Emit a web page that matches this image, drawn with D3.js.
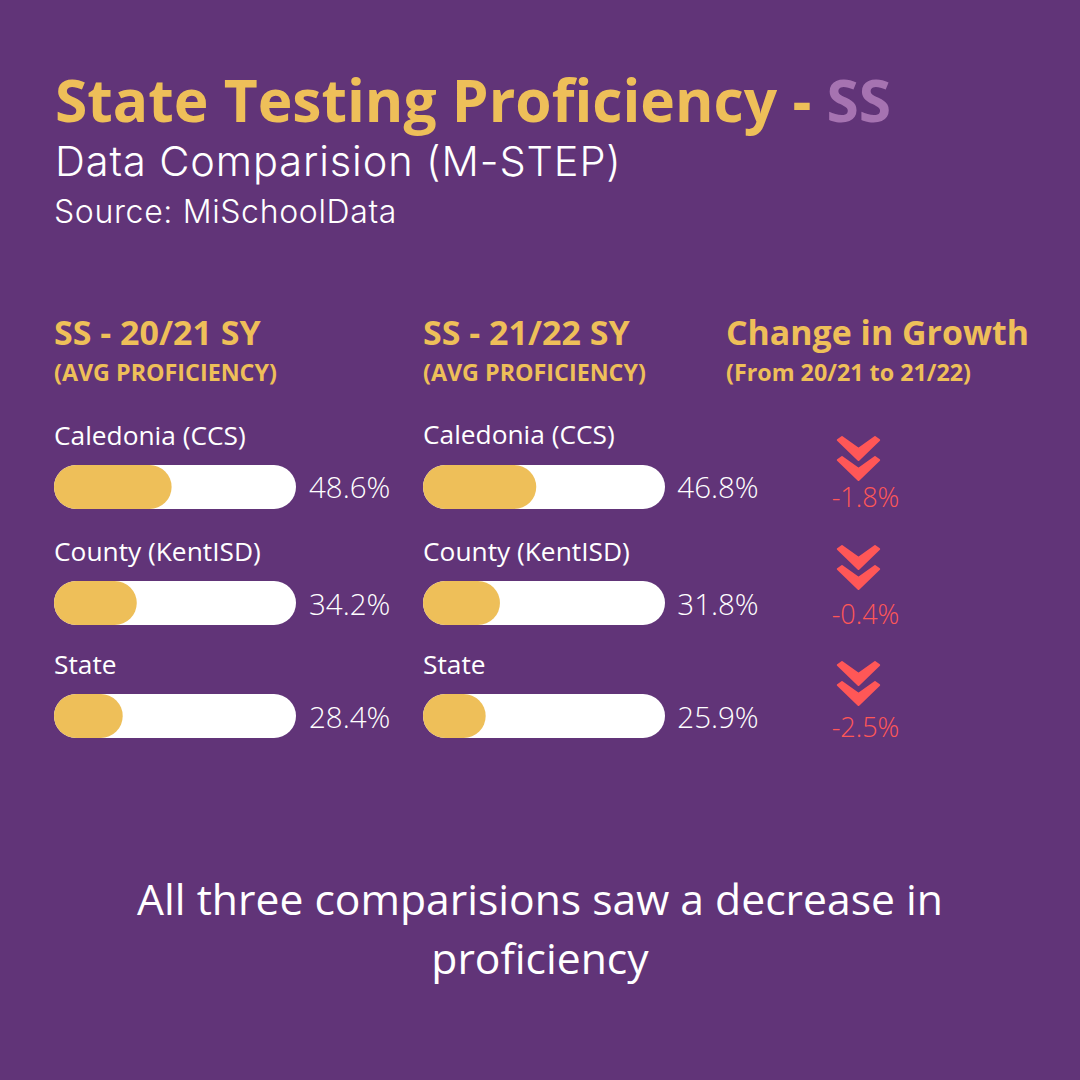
<!DOCTYPE html>
<html><head><meta charset="utf-8">
<script src="https://cdn.jsdelivr.net/npm/d3@7"></script>
<style>html,body{margin:0;padding:0;background:#613478}svg{display:block}</style>
</head><body><div id="c"></div>
<script>
const categories = ["Caledonia (CCS)", "County (KentISD)", "State"];
const values2021 = [48.6, 34.2, 28.4];
const values2122 = [46.8, 31.8, 25.9];
const changes = [-1.8, -0.4, -2.5];
const columnTitles = ["SS - 20/21 SY", "SS - 21/22 SY"];
const axisDomain = [0, 100];

const PURPLE="#613478", GOLD="#EEBF59", WHITE="#FFFFFF", RED="#FF5757", LILAC="#A673B1";
const OS="'Open Sans',sans-serif", LX="'Inter','Noto Sans',sans-serif";
const svg=d3.select("#c").append("svg").attr("width",1080).attr("height",1080);
svg.append("rect").attr("width",1080).attr("height",1080).attr("fill",PURPLE);

function text(x,y,s,size,fill,opts={}){
  return svg.append("text").attr("x",x).attr("y",y).text(s)
    .attr("font-size",size).attr("fill",fill)
    .attr("font-family",opts.family||OS).attr("font-weight",opts.weight||400)
    .attr("letter-spacing",opts.spacing||0)
    .attr("text-anchor",opts.anchor||"start");
}
// Title
const t=text(55,122,"",58.7,GOLD,{weight:700});
t.append("tspan").text("State Testing Proficiency - ");
t.append("tspan").attr("fill",LILAC).text("SS");
text(55,176,"Data Comparision (M-STEP)",41.5,WHITE,{family:LX,weight:300,spacing:0.9});
text(54,223,"Source: MiSchoolData",32,WHITE,{family:LX,weight:300,spacing:0.65});

// Column headers
const colX=d3.scaleOrdinal().domain([0,1]).range([54,423]);
columnTitles.forEach((c,i)=>{
  text(colX(i),345,c,34,GOLD,{weight:700});
  text(colX(i),381,"(AVG PROFICIENCY)",23.3,GOLD,{weight:700});
});
text(726,345,"Change in Growth",33.9,GOLD,{weight:700});
text(726,381,"(From 20/21 to 21/22)",23.3,GOLD,{weight:700});

// Bars
const x=d3.scaleLinear().domain(axisDomain).range([0,242]);
const rowY=d3.scaleOrdinal().domain(categories).range([465,581,694]);
const barH=44;
[values2021,values2122].forEach((vals,ci)=>{
  const g=svg.append("g").attr("transform",`translate(${colX(ci)},0)`);
  const row=g.selectAll("g").data(categories.map((c,i)=>({c,v:vals[i],i}))).join("g")
    .attr("transform",d=>`translate(0,${rowY(d.c)})`);
  row.append("text").attr("x",0).attr("y",d=>-20-(ci===1&&d.i===0?1:0)).text(d=>d.c)
    .attr("font-family",OS).attr("font-size",26.3).attr("fill",WHITE);
  row.append("rect").attr("width",x(100)).attr("height",barH).attr("rx",barH/2).attr("fill",WHITE);
  row.append("rect").attr("width",d=>x(d.v)).attr("height",barH).attr("rx",barH/2).attr("fill",GOLD);
  row.append("text").attr("x",x(100)+13-ci*0.7).attr("y",d=>34-(d.i===0?1:0)).text(d=>d.v.toFixed(1)+"%")
    .attr("font-family",OS).attr("font-weight",300).attr("font-size",29.5).attr("fill",WHITE);
});

// Change column
const chevY=d3.scaleOrdinal().domain(categories).range([436,545,661]);
const labelY=d3.scaleOrdinal().domain(categories).range([507,624,737]);
const chevron=d3.line()([[-20.7,4],[-16.5,1],[0,12.8],[16.5,1],[20.7,4],[0,24]])+"Z";
const ch=svg.selectAll("g.ch").data(categories.map((c,i)=>({c,v:changes[i]}))).join("g")
  .attr("class","ch");
[0,20].forEach(dy=>{
  ch.append("path").attr("d",chevron).attr("transform",d=>`translate(858.5,${chevY(d.c)+dy})`)
    .attr("fill",RED).attr("stroke",RED).attr("stroke-width",2).attr("stroke-linejoin","round");
});
ch.append("text").attr("x",865.5).attr("y",d=>labelY(d.c)).attr("text-anchor","middle")
  .text(d=>d.v.toFixed(1)+"%")
  .attr("font-family",OS).attr("font-weight",300).attr("font-size",27).attr("fill",RED);

// Footer
text(540,915,"All three comparisions saw a decrease in",42.65,WHITE,{anchor:"middle"});
text(540,974,"proficiency",42.65,WHITE,{anchor:"middle"});
</script></body></html>
